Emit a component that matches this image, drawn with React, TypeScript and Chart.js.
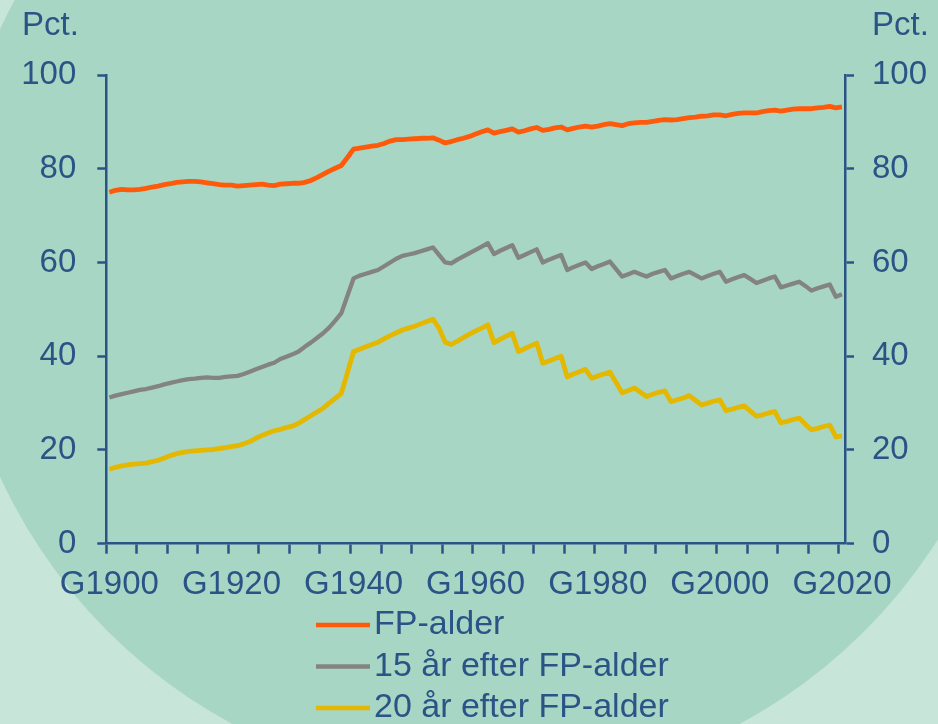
import React, { useEffect, useRef } from 'react';
import { Chart, registerables } from 'chart.js';

Chart.register(...registerables);

const firstYear = 1900;
const lastYear = 2020;
const categories: string[] = [];
for (let y = firstYear; y <= lastYear; y++) categories.push('G' + y);

const seriesNames = ['FP-alder', '15 år efter FP-alder', '20 år efter FP-alder'];

const fpAlder = [
  75.0, 75.4, 75.6, 75.5, 75.5, 75.6, 75.8, 76.1, 76.3, 76.6,
  76.8, 77.1, 77.2, 77.3, 77.3, 77.2, 77.0, 76.8, 76.6, 76.5,
  76.5, 76.3, 76.4, 76.5, 76.6, 76.7, 76.5, 76.4, 76.7, 76.8,
  76.9, 76.9, 77.1, 77.5, 78.1, 78.8, 79.5, 80.1, 80.7, 82.4,
  84.2, 84.4, 84.6, 84.8, 85.0, 85.4, 85.9, 86.2, 86.2, 86.3,
  86.4, 86.5, 86.5, 86.6, 86.1, 85.5, 85.8, 86.2, 86.5, 86.9,
  87.4, 87.9, 88.3, 87.6, 87.9, 88.2, 88.5, 87.8, 88.1, 88.5,
  88.8, 88.2, 88.4, 88.7, 88.9, 88.3, 88.6, 88.9, 89.1, 88.9,
  89.1, 89.4, 89.6, 89.4, 89.2, 89.6, 89.8, 89.9, 89.9, 90.1,
  90.3, 90.5, 90.4, 90.5, 90.7, 90.9, 91.0, 91.2, 91.3, 91.5,
  91.5, 91.3, 91.6, 91.8, 91.9, 91.9, 91.9, 92.2, 92.4, 92.5,
  92.3, 92.5, 92.7, 92.8, 92.8, 92.8, 93.0, 93.1, 93.3, 93.0, 93.2,
];

const aar15 = [
  31.2, 31.6, 31.9, 32.2, 32.5, 32.8, 33.0, 33.3, 33.6, 34.0,
  34.3, 34.6, 34.9, 35.1, 35.2, 35.4, 35.5, 35.4, 35.4, 35.6,
  35.7, 35.8, 36.2, 36.7, 37.2, 37.7, 38.2, 38.6, 39.4, 39.9,
  40.4, 41.0, 42.0, 42.9, 43.9, 44.9, 46.1, 47.6, 49.2, 52.9,
  56.6, 57.2, 57.6, 58.0, 58.4, 59.2, 60.0, 60.8, 61.4, 61.7,
  62.0, 62.4, 62.8, 63.2, 61.6, 60.0, 59.8, 60.6, 61.3, 62.0,
  62.7, 63.4, 64.1, 61.8, 62.5, 63.1, 63.7, 61.0, 61.6, 62.2,
  62.8, 60.0, 60.6, 61.1, 61.6, 58.4, 59.0, 59.5, 60.0, 58.6,
  59.2, 59.7, 60.2, 58.6, 57.0, 57.5, 58.0, 57.5, 57.0, 57.6,
  58.0, 58.4, 56.6, 57.1, 57.6, 58.0, 57.3, 56.6, 57.1, 57.6,
  58.0, 55.9, 56.4, 56.9, 57.3, 56.5, 55.6, 56.1, 56.6, 57.0,
  54.7, 55.1, 55.5, 55.9, 55.0, 54.0, 54.5, 54.9, 55.3, 52.7, 53.2,
];

const aar20 = [
  15.9, 16.3, 16.6, 16.8, 17.0, 17.1, 17.2, 17.5, 17.8, 18.3,
  18.8, 19.2, 19.5, 19.7, 19.8, 19.9, 20.0, 20.1, 20.3, 20.5,
  20.7, 20.9, 21.3, 21.8, 22.5, 23.1, 23.6, 24.1, 24.4, 24.8,
  25.1, 25.7, 26.5, 27.3, 28.1, 28.9, 30.0, 31.0, 32.1, 36.5,
  41.0, 41.5, 42.0, 42.5, 43.0, 43.7, 44.4, 45.0, 45.6, 46.0,
  46.4, 46.9, 47.4, 47.9, 46.0, 43.0, 42.5, 43.2, 44.0, 44.7,
  45.4, 46.0, 46.7, 42.9, 43.6, 44.3, 44.9, 41.0, 41.6, 42.2,
  42.8, 38.5, 39.0, 39.5, 40.0, 35.6, 36.2, 36.7, 37.2, 35.3,
  35.8, 36.2, 36.6, 34.4, 32.2, 32.7, 33.2, 32.3, 31.4, 31.9,
  32.3, 32.6, 30.3, 30.7, 31.1, 31.6, 30.6, 29.6, 30.0, 30.4,
  30.7, 28.4, 28.7, 29.1, 29.4, 28.3, 27.2, 27.5, 27.9, 28.2,
  25.8, 26.1, 26.5, 26.8, 25.5, 24.3, 24.6, 25.0, 25.3, 22.8, 23.0,
];

const yTicks = [0, 20, 40, 60, 80, 100];

const TEXT = '#2A5386';
const COLORS = ['#FF5A0A', '#838383', '#E4B800'];
const WIDTHS = [4.8, 4.3, 4.8];
const FONT = '"Liberation Sans", Arial, sans-serif';
const W = 938;
const H = 724;

const backgroundPlugin = {
  id: 'bgCircle',
  beforeDraw(chart: any) {
    const ctx = chart.ctx;
    ctx.save();
    ctx.fillStyle = '#C7E5D9';
    ctx.fillRect(0, 0, chart.width, chart.height);
    ctx.beginPath();
    ctx.ellipse(486, 253, 535, 535, 0, 0, Math.PI * 2);
    ctx.fillStyle = '#A8D6C4';
    ctx.fill();
    ctx.restore();
  },
};

const overlayPlugin = {
  id: 'overlay',
  afterDraw(chart: any) {
    const ctx = chart.ctx;
    ctx.save();
    ctx.fillStyle = TEXT;
    ctx.font = `33px ${FONT}`;
    ctx.textBaseline = 'middle';
    ctx.textAlign = 'left';
    ctx.fillText('Pct.', 22, 26);
    ctx.fillText('Pct.', 872, 26);
    const rows = [625, 666.5, 708];
    seriesNames.forEach((name, i) => {
      ctx.strokeStyle = COLORS[i];
      ctx.lineWidth = 4.5;
      ctx.beginPath();
      ctx.moveTo(316, rows[i]);
      ctx.lineTo(370, rows[i]);
      ctx.stroke();
      ctx.fillStyle = TEXT;
      ctx.font = `34px ${FONT}`;
      ctx.fillText(name, 374, rows[i]);
    });
    ctx.restore();
  },
};

export default function App() {
  const ref = useRef<HTMLCanvasElement | null>(null);

  useEffect(() => {
    if (!ref.current) return;
    const yScale = (position: 'left' | 'right', pad: number, width: number) => ({
      type: 'linear' as const,
      position,
      min: 0,
      max: 100,
      afterBuildTicks: (s: any) => {
        s.ticks = yTicks.map((v) => ({ value: v }));
      },
      ticks: {
        color: TEXT,
        font: { family: FONT, size: 33 },
        padding: pad,
      },
      grid: {
        display: true,
        drawOnChartArea: false,
        drawTicks: true,
        tickLength: 9,
        tickWidth: 2.5,
        tickColor: TEXT,
      },
      border: { display: true, color: TEXT, width: 2.5 },
      afterFit: (s: any) => {
        s.width = width;
      },
    });

    const chart = new Chart(ref.current, {
      type: 'line',
      data: {
        labels: categories,
        datasets: [fpAlder, aar15, aar20].map((d, i) => ({
          label: seriesNames[i],
          data: d,
          borderColor: COLORS[i],
          backgroundColor: COLORS[i],
          borderWidth: WIDTHS[i],
          pointRadius: 0,
          tension: 0,
          borderJoinStyle: 'round' as const,
          yAxisID: 'y',
        })),
      },
      options: {
        responsive: false,
        animation: false,
        devicePixelRatio: 1,
        layout: { padding: { top: 75, left: 0, right: 0, bottom: 0 } },
        plugins: {
          legend: { display: false },
          tooltip: { enabled: false },
        },
        scales: {
          x: {
            type: 'category',
            offset: true,
            grid: {
              display: true,
              drawOnChartArea: false,
              drawTicks: true,
              offset: true,
              tickLength: 10,
              tickWidth: 2.5,
              tickColor: (ctx: any) => (ctx.index % 5 === 0 ? TEXT : 'rgba(0,0,0,0)'),
            },
            border: { display: true, color: TEXT, width: 2.5 },
            ticks: {
              autoSkip: false,
              maxRotation: 0,
              minRotation: 0,
              color: TEXT,
              padding: 11,
              font: { family: FONT, size: 33 },
              callback: (_v: any, i: number) => ((firstYear + i) % 20 === 0 ? categories[i] : ''),
            },
            afterFit: (s: any) => {
              s.height = H - 543.7;
            },
          },
          y: yScale('left', 21, 106.3),
          y2: yScale('right', 18, W - 845),
        },
      },
      plugins: [backgroundPlugin, overlayPlugin],
    });
    return () => chart.destroy();
  }, []);

  return (
    <div style={{ position: 'fixed', left: 0, top: 0, width: W, height: H }}>
      <canvas ref={ref} width={W} height={H} style={{ display: 'block' }} />
    </div>
  );
}
